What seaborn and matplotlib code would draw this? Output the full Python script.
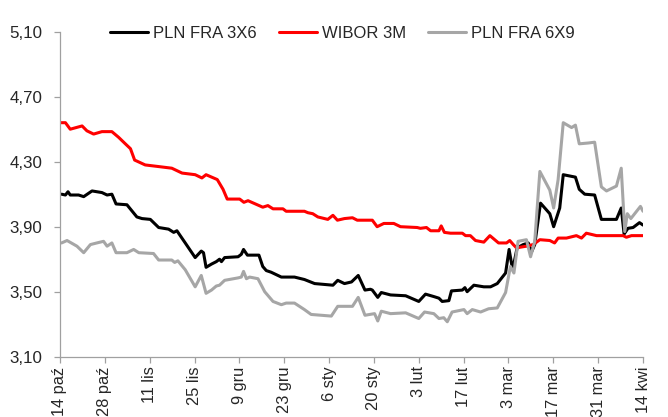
import matplotlib
matplotlib.use("Agg")
import matplotlib.pyplot as plt
import seaborn as sns
import pandas as pd

# days counted from 14 paz
fra3x6_day = [0.5, 1.7, 2.5, 3.2, 5.8, 7.4, 10.0, 13.1, 14.7, 16.2, 17.5, 20.9, 24.0, 25.6,
              28.2, 30.8, 33.9, 35.5, 36.5, 39.1, 42.2, 44.1, 44.8, 45.6, 47.3, 48.8, 49.8,
              50.4, 51.4, 55.6, 56.6, 57.3, 58.5, 62.1, 63.3, 64.4, 65.9, 69.1, 73.2, 76.3,
              79.5, 85.2, 86.7, 88.8, 91.0, 93.1, 95.2, 96.9, 97.5, 99.2, 100.3, 103.2,
              107.9, 112.0, 114.1, 116.7, 118.3, 119.3, 121.4, 122.2, 125.6, 126.4, 127.1,
              129.2, 132.3, 134.4, 136.5, 139.1, 140.2, 141.3, 142.7, 144.6, 146.2, 147.2,
              148.2, 150.0, 152.9, 154.1, 156.0, 157.1, 160.9, 162.1, 163.8, 166.9, 169.0,
              173.7, 175.2, 176.1, 177.3, 178.9, 180.9, 182.0]
fra3x6 = [4.10, 4.095, 4.115, 4.095, 4.095, 4.085, 4.12, 4.11, 4.095, 4.10, 4.04, 4.035, 3.96,
          3.95, 3.945, 3.895, 3.885, 3.865, 3.875, 3.80, 3.71, 3.75, 3.74, 3.65, 3.67, 3.685,
          3.70, 3.685, 3.71, 3.715, 3.73, 3.76, 3.725, 3.725, 3.655, 3.63, 3.62, 3.59, 3.59,
          3.575, 3.55, 3.54, 3.57, 3.55, 3.56, 3.60, 3.51, 3.515, 3.51, 3.465, 3.495, 3.48,
          3.475, 3.44, 3.485, 3.47, 3.46, 3.44, 3.445, 3.505, 3.51, 3.525, 3.50, 3.54, 3.53,
          3.53, 3.55, 3.615, 3.76, 3.635, 3.77, 3.79, 3.80, 3.745, 3.79, 4.045, 3.98, 3.90,
          4.015, 4.22, 4.205, 4.13, 4.10, 4.095, 3.945, 3.945, 4.015, 3.855, 3.89, 3.895,
          3.925, 3.91]

wibor_day = [0.4, 1.7, 3.2, 6.9, 8.4, 10.5, 13.1, 16.2, 18.3, 20.4, 22.0, 23.3, 26.6, 30.8,
             34.9, 38.1, 42.2, 44.3, 45.6, 49.1, 50.9, 52.2, 56.1, 57.4, 58.7, 63.3, 64.9,
             66.5, 69.6, 70.6, 76.3, 77.4, 78.9, 80.5, 83.6, 85.2, 86.6, 88.8, 91.3, 92.8,
             97.5, 99.0, 101.1, 104.2, 106.3, 111.5, 112.5, 114.4, 115.7, 118.3, 119.0,
             120.0, 121.9, 125.6, 126.6, 128.1, 129.7, 132.3, 134.2, 136.9, 139.4, 140.4,
             141.5, 142.5, 145.6, 147.7, 149.8, 152.9, 154.4, 155.5, 158.1, 161.2, 162.8,
             164.3, 167.5, 175.8, 176.8, 178.4, 182.0]
wibor = [4.54, 4.54, 4.50, 4.52, 4.49, 4.47, 4.485, 4.485, 4.45, 4.41, 4.38, 4.31, 4.28, 4.27,
         4.26, 4.23, 4.22, 4.20, 4.22, 4.19, 4.13, 4.07, 4.07, 4.05, 4.06, 4.02, 4.03, 4.01,
         4.01, 3.995, 3.995, 3.986, 3.98, 3.96, 3.945, 3.97, 3.94, 3.95, 3.955, 3.94, 3.94,
         3.90, 3.92, 3.92, 3.90, 3.895, 3.89, 3.895, 3.875, 3.875, 3.905, 3.865, 3.86, 3.86,
         3.845, 3.845, 3.815, 3.805, 3.845, 3.80, 3.80, 3.815, 3.79, 3.77, 3.78, 3.79, 3.82,
         3.815, 3.80, 3.83, 3.83, 3.845, 3.83, 3.86, 3.845, 3.845, 3.835, 3.845, 3.845]

fra6x9_day = [0.5, 2.2, 5.3, 7.4, 9.5, 11.5, 13.6, 14.7, 16.2, 17.5, 20.9, 23.0, 24.6, 29.2,
              30.8, 34.9, 35.8, 36.8, 39.1, 42.2, 44.1, 45.6, 47.3, 48.8, 49.8, 51.4, 55.6,
              56.6, 57.3, 58.2, 59.2, 61.8, 63.9, 66.5, 69.1, 70.6, 73.2, 76.3, 78.4, 84.7,
              86.7, 91.3, 93.1, 95.2, 98.2, 99.2, 100.3, 103.2, 107.9, 112.0, 113.8, 116.7,
              118.3, 119.8, 120.9, 122.4, 126.1, 127.1, 128.7, 131.3, 133.8, 136.5, 139.1,
              140.6, 141.7, 143.0, 145.6, 146.9, 148.2, 149.8, 152.9, 154.1, 155.5, 157.1,
              159.7, 160.9, 162.1, 164.9, 166.9, 169.0, 170.6, 173.7, 175.2, 176.3, 177.1,
              178.2, 181.2, 182.0]
fra6x9 = [3.80, 3.815, 3.78, 3.74, 3.79, 3.80, 3.81, 3.78, 3.80, 3.74, 3.74, 3.76, 3.74, 3.735,
          3.695, 3.695, 3.68, 3.69, 3.635, 3.53, 3.60, 3.49, 3.51, 3.535, 3.54, 3.57, 3.585,
          3.59, 3.625, 3.58, 3.59, 3.58, 3.50, 3.44, 3.42, 3.43, 3.43, 3.39, 3.36, 3.35, 3.41,
          3.41, 3.465, 3.355, 3.365, 3.32, 3.38, 3.365, 3.37, 3.335, 3.375, 3.365, 3.335,
          3.34, 3.315, 3.375, 3.39, 3.365, 3.39, 3.375, 3.395, 3.40, 3.495, 3.655, 3.615,
          3.81, 3.82, 3.715, 3.81, 4.24, 4.125, 4.015, 4.19, 4.54, 4.51, 4.525, 4.41, 4.415,
          4.42, 4.145, 4.12, 4.15, 4.26, 3.87, 3.98, 3.95, 4.025, 3.995]

series_names = ["PLN FRA 3X6", "WIBOR 3M", "PLN FRA 6X9"]
series_colors = ["#000000", "#FF0000", "#A6A6A6"]

x_ticks = [0, 14, 28, 42, 56, 70, 84, 98, 112, 126, 140, 154, 168, 182]
x_labels = ["14 paź", "28 paź", "11 lis", "25 lis", "9 gru", "23 gru", "6 sty",
            "20 sty", "3 lut", "17 lut", "3 mar", "17 mar", "31 mar", "14 kwi"]
y_ticks = [3.10, 3.50, 3.90, 4.30, 4.70, 5.10]
y_labels = ["3,10", "3,50", "3,90", "4,30", "4,70", "5,10"]

df = pd.concat([
    pd.DataFrame({"day": fra3x6_day, "value": fra3x6, "series": series_names[0]}),
    pd.DataFrame({"day": wibor_day, "value": wibor, "series": series_names[1]}),
    pd.DataFrame({"day": fra6x9_day, "value": fra6x9, "series": series_names[2]}),
])

sns.set_style("white")
plt.rcParams["font.family"] = ["Liberation Sans", "DejaVu Sans"]
plt.rcParams["font.size"] = 12

fig = plt.figure(figsize=(6.68, 4.17), dpi=100)
ax = fig.add_axes([0.0898, 0.1446, 0.8728, 0.7794])

sns.lineplot(data=df, x="day", y="value", hue="series", hue_order=series_names,
             palette=series_colors, estimator=None, linewidth=2.2, ax=ax)

ax.set_xlim(0, 182)
ax.set_ylim(3.10, 5.10)
ax.set_xticks(x_ticks)
ax.set_xticklabels(x_labels, rotation=90)
ax.set_yticks(y_ticks)
ax.set_yticklabels(y_labels)
ax.set_xlabel("")
ax.set_ylabel("")

for side in ["top", "right"]:
    ax.spines[side].set_visible(False)
for side in ["left", "bottom"]:
    ax.spines[side].set_color("#A0A0A0")
    ax.spines[side].set_linewidth(0.9)
ax.tick_params(axis="y", direction="out", length=4.3, width=0.9, color="#A0A0A0",
               pad=8.4, labelsize=12.2, left=True)
ax.tick_params(axis="x", direction="out", length=4, width=0.9, color="#A0A0A0",
               pad=3, labelsize=11.8, bottom=True)

handles, labels = ax.get_legend_handles_labels()
ax.get_legend().remove()
fig.legend(handles, labels, loc="center left", bbox_to_anchor=(110 / 668, 1 - 33 / 417),
           ncol=3, frameon=False, fontsize=12, handlelength=2.3, handletextpad=0.3,
           columnspacing=1.3, borderpad=0, borderaxespad=0)

fig.savefig("out.png", dpi=100)
